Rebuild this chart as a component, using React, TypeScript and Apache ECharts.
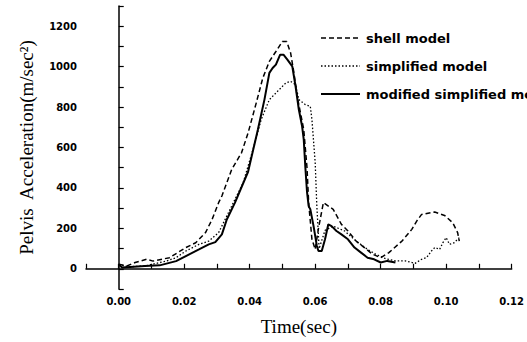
import React, { useEffect, useRef } from "react";
import * as echarts from "echarts";

const seriesNames = ["shell model", "simplified model", "modified simplified model"];

const shellT = [0, 0.0025, 0.005, 0.0065, 0.0085, 0.0105, 0.0155, 0.0205, 0.0235, 0.0265, 0.0285, 0.0305, 0.0315, 0.0345, 0.0375, 0.0395, 0.042, 0.044, 0.046, 0.048, 0.05, 0.0513, 0.0525, 0.0535, 0.0545, 0.0555, 0.0565, 0.0575, 0.058, 0.059, 0.06, 0.061, 0.0625, 0.0655, 0.068, 0.07, 0.0725, 0.075, 0.0775, 0.08, 0.0825, 0.0865, 0.0895, 0.091, 0.0925, 0.0965, 0.0995, 0.102, 0.1035, 0.104];
const shellV = [22, 14, 31, 38, 47, 38, 55, 105, 129, 179, 244, 327, 360, 491, 574, 672, 821, 944, 1026, 1075, 1125, 1125, 1067, 969, 853, 771, 689, 500, 327, 146, 96, 200, 327, 294, 220, 187, 137, 105, 72, 55, 80, 137, 195, 236, 269, 281, 264, 228, 179, 137];

const simpT = [0, 0.003, 0.008, 0.0145, 0.0175, 0.0205, 0.0245, 0.0275, 0.0305, 0.033, 0.035, 0.038, 0.041, 0.0435, 0.046, 0.0485, 0.051, 0.0525, 0.054, 0.055, 0.057, 0.0585, 0.059, 0.06, 0.0605, 0.0612, 0.063, 0.0655, 0.069, 0.0725, 0.076, 0.0785, 0.0815, 0.0845, 0.0875, 0.0905, 0.0925, 0.094, 0.0955, 0.0965, 0.098, 0.099, 0.1, 0.101, 0.1025, 0.1035, 0.104];
const simpV = [20, 10, 14, 38, 55, 88, 121, 137, 179, 261, 327, 426, 590, 738, 837, 878, 919, 927, 911, 837, 812, 804, 738, 524, 310, 100, 190, 211, 187, 137, 96, 72, 50, 39, 39, 27, 47, 55, 88, 105, 96, 129, 154, 121, 129, 146, 154];

const modT = [0, 0.001, 0.0035, 0.008, 0.0125, 0.0175, 0.0205, 0.0245, 0.0275, 0.0295, 0.0315, 0.033, 0.0355, 0.0395, 0.0425, 0.0445, 0.046, 0.047, 0.048, 0.0493, 0.0503, 0.0515, 0.053, 0.054, 0.055, 0.056, 0.0565, 0.057, 0.0575, 0.058, 0.0585, 0.0595, 0.0605, 0.061, 0.062, 0.063, 0.064, 0.065, 0.0665, 0.068, 0.07, 0.072, 0.074, 0.076, 0.078, 0.08, 0.082, 0.0845];
const modV = [22, 6, 9, 14, 17, 38, 63, 96, 121, 132, 170, 244, 327, 480, 689, 837, 969, 993, 1010, 1059, 1059, 1035, 1001, 903, 788, 705, 640, 500, 380, 310, 295, 211, 113, 88, 88, 146, 220, 211, 187, 170, 146, 105, 80, 55, 47, 31, 39, 31];

const xMin = -0.01, xMax = 0.12, xStep = 0.01;
const yMin = -100, yMax = 1300, yStep = 100;

const pairs = (t: number[], v: number[]) => t.map((x, i) => [x, v[i]]);

const lineStyles = [
  { color: "#000", width: 1.5, type: [5, 3] as number[] | string },
  { color: "#000", width: 1.3, type: [1.5, 2] as number[] | string },
  { color: "#000", width: 2, type: "solid" as number[] | string },
];

export default function App() {
  const ref = useRef<HTMLDivElement>(null);
  useEffect(() => {
    if (!ref.current) return;
    const chart = echarts.init(ref.current, null, { renderer: "svg" });
    const tickFont = { fontFamily: "DejaVu Sans", fontWeight: "bold" as const, fontSize: 10, color: "#000" };
    const axisLine = { show: true, lineStyle: { color: "#000", width: 1.5 } };

    const legendEls: any[] = [];
    seriesNames.forEach((name, i) => {
      const cy = 38 + i * 28;
      const ls = lineStyles[i];
      legendEls.push({
        type: "line",
        shape: { x1: 321, y1: cy, x2: 360, y2: cy },
        style: {
          stroke: "#000",
          lineWidth: ls.width,
          lineDash: Array.isArray(ls.type) ? ls.type : null,
        },
      });
      legendEls.push({
        type: "text",
        x: 366,
        y: cy,
        style: {
          text: name,
          fontFamily: "DejaVu Sans",
          fontWeight: "bold",
          fontSize: 13,
          fill: "#000",
          verticalAlign: "middle",
          align: "left",
        },
      });
    });

    chart.setOption({
      animation: false,
      backgroundColor: "#fff",
      grid: { left: 86, right: 11, top: 6, bottom: 53, containLabel: false },
      graphic: legendEls,
      xAxis: {
        type: "value",
        min: xMin,
        max: xMax,
        interval: xStep,
        name: "Time(sec)",
        nameLocation: "middle",
        nameGap: 28,
        nameTextStyle: { fontFamily: "Liberation Serif", fontSize: 19, color: "#000" },
        axisLine,
        axisTick: { show: true, inside: true, length: 5, lineStyle: { color: "#000", width: 1.2 } },
        splitLine: { show: false },
        axisLabel: {
          ...tickFont,
          margin: 7,
          showMaxLabel: true,
          formatter: (v: number) => {
            const k = Math.round(v * 100);
            if (k < 0 || k % 2 !== 0) return "";
            return v.toFixed(2);
          },
        },
      },
      yAxis: {
        type: "value",
        min: yMin,
        max: yMax,
        interval: yStep,
        name: "Pelvis  Acceleration(m/sec²)",
        nameLocation: "middle",
        nameGap: 50,
        nameTextStyle: { fontFamily: "Liberation Serif", fontSize: 19, color: "#000" },
        axisLine,
        axisTick: { show: true, inside: true, length: 5, lineStyle: { color: "#000", width: 1.2 } },
        splitLine: { show: false },
        axisLabel: {
          ...tickFont,
          margin: 9,
          formatter: (v: number) => {
            const k = Math.round(v);
            if (k < 0 || k > 1200 || k % 200 !== 0) return "";
            return String(k);
          },
        },
      },
      series: [
        { name: seriesNames[0], type: "line", symbol: "none", data: pairs(shellT, shellV), lineStyle: lineStyles[0] },
        { name: seriesNames[1], type: "line", symbol: "none", data: pairs(simpT, simpV), lineStyle: lineStyles[1] },
        { name: seriesNames[2], type: "line", symbol: "none", data: pairs(modT, modV), lineStyle: lineStyles[2] },
      ],
    });
    return () => chart.dispose();
  }, []);
  return <div ref={ref} style={{ width: 527, height: 342, position: "absolute", left: 0, top: 0 }} />;
}
